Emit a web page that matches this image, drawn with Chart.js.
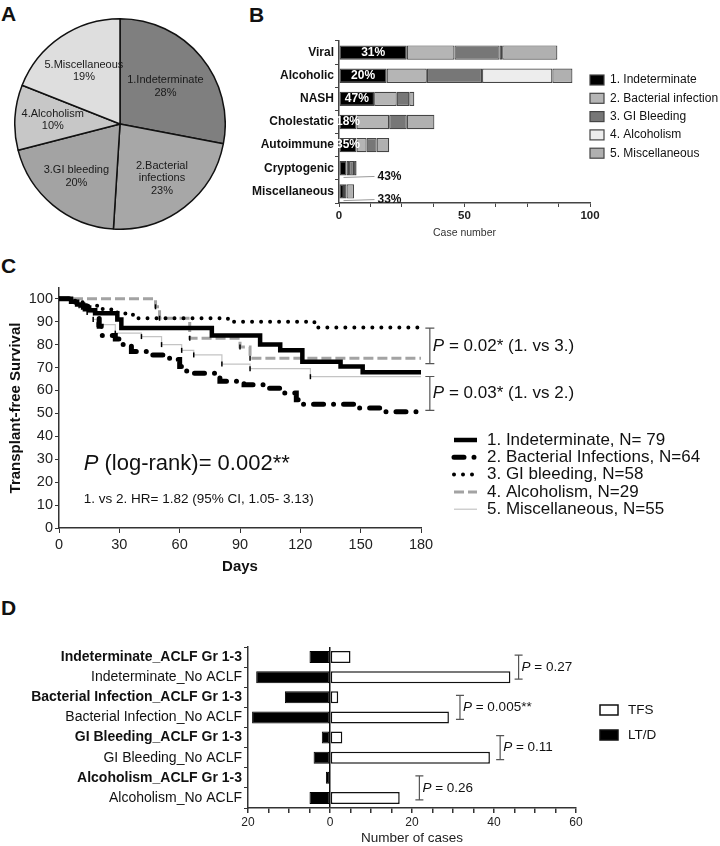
<!DOCTYPE html>
<html>
<head>
<meta charset="utf-8">
<title>ACLF triggers</title>
<script src="https://cdn.jsdelivr.net/npm/chart.js"></script>
<style>
  body { margin: 0; background: #fff; }
  #page { position: relative; width: 720px; height: 846px; overflow: hidden; font-family: "Liberation Sans", Arial, sans-serif; }
  #page canvas { position: absolute; }
  .panel { position: absolute; font-weight: bold; font-size: 21px; line-height: 21px; color: #111; }
</style>
</head>
<body>
<div id="page">
  <div class="panel" style="left:1px;top:3px">A</div>
  <div class="panel" style="left:249px;top:4px">B</div>
  <div class="panel" style="left:1px;top:255px">C</div>
  <div class="panel" style="left:1px;top:597px">D</div>
  <canvas id="pieChart" width="212" height="212" style="left:14px;top:18px"></canvas>
  <canvas id="etiologyChart" width="480" height="240" style="left:240px;top:0px"></canvas>
  <canvas id="survivalChart" width="720" height="340" style="left:0px;top:240px"></canvas>
  <canvas id="aclfChart" width="720" height="266" style="left:0px;top:580px"></canvas>
</div>

<script>
    // A: share of each ACLF trigger (%)
    const pieNames = ['1.Indeterminate', '2.Bacterial\ninfections', '3.GI bleeding', '4.Alcoholism', '5.Miscellaneous'];
    const pieValues = [28, 23, 20, 10, 19];

    // B: trigger case numbers per liver disease etiology
    const etiologies = ['Viral', 'Alcoholic', 'NASH', 'Cholestatic', 'Autoimmune', 'Cryptogenic', 'Miscellaneous'];
    const triggerNames = ['1. Indeterminate', '2. Bacterial infection', '3. GI Bleeding', '4. Alcoholism', '5. Miscellaneous'];
    const casesIndeterminate = [27, 19, 14, 7, 7, 3, 2];
    const casesBacterial = [19, 16, 9, 13, 4, 1, 1];
    const casesGIBleeding = [18, 22, 5, 7, 4, 2, 0];
    const casesAlcoholism = [1, 28, 0, 0, 0, 0, 0];
    const casesMisc = [22, 8, 2, 11, 5, 1, 3];
    const indeterminateShare = ['31%', '20%', '47%', '18%', '35%', '43%', '33%'];

    // C: Kaplan-Meier transplant-free survival (day, % surviving)
    const kmLabels = ['1. Indeterminate, N= 79', '2. Bacterial Infections, N=64', '3. GI bleeding, N=58', '4. Alcoholism, N=29', '5. Miscellaneous, N=55'];
    const kmDays1 = [0, 6, 9, 12, 15, 18, 29, 31, 76, 100, 110, 121, 140, 151, 180];
    const kmSurv1 = [100, 98.7, 97.5, 96.2, 95, 93.7, 91, 87.3, 84, 80, 77.5, 72.5, 70.5, 68, 68];
    const kmDays2 = [0, 6, 10, 13, 16, 19, 20, 21, 28, 30, 36, 45, 55, 60, 63.5, 80, 92, 103, 111.5, 118, 119, 149, 161, 180];
    const kmSurv2 = [100, 98.5, 97, 95.5, 94, 92, 88, 84, 82.5, 80, 77, 75.5, 73.5, 70.5, 67.5, 64, 62.5, 61, 58.9, 56, 54, 52.3, 50.7, 50.7];
    const kmDays3 = [0, 8, 14, 20, 26, 33, 37, 84, 127, 180];
    const kmSurv3 = [100, 98.5, 97, 95.5, 94, 93, 91.5, 90, 87.5, 87.5];
    const kmDays4 = [0, 48, 50, 65, 90, 95, 180];
    const kmSurv4 = [100, 96.5, 91.5, 82.8, 79, 74, 74];
    const kmDays5 = [0, 10, 14, 17, 19, 28, 41, 51, 61, 67, 81, 95, 125, 180];
    const kmSurv5 = [100, 97, 94, 91, 88.7, 85, 83.5, 80, 77.5, 75.5, 71.5, 69.5, 66, 66];

    // D: outcome by trigger and ACLF grade
    const aclfRows = ['Indeterminate_ACLF Gr 1-3', 'Indeterminate_No ACLF', 'Bacterial Infection_ACLF Gr 1-3', 'Bacterial Infection_No ACLF',
        'GI Bleeding_ACLF Gr 1-3', 'GI Bleeding_No ACLF', 'Alcoholism_ACLF Gr 1-3', 'Alcoholism_No ACLF'];
    const tfsCases = [5, 44, 2, 29, 3, 39, 0, 17];
    const ltdCases = [5, 18, 11, 19, 2, 4, 1, 5];
    const rowPValues = ['0.27', '0.005**', '0.11', '0.26'];

    const FONT = '"Liberation Sans", Arial, sans-serif';
    Chart.defaults.font.family = FONT;
    Chart.defaults.color = '#222';
    Chart.defaults.animation = false;
    Chart.defaults.responsive = false;
    Chart.defaults.plugins.legend.display = false;
    Chart.defaults.plugins.tooltip.enabled = false;

    // italic "P" followed by the rest of the text
    function drawP(ctx, rest, x, y, size) {
        ctx.save();
        ctx.fillStyle = '#111';
        ctx.textAlign = 'left';
        ctx.textBaseline = 'middle';
        ctx.font = 'italic ' + size + 'px ' + FONT;
        ctx.fillText('P', x, y);
        const w = ctx.measureText('P ').width;
        ctx.font = size + 'px ' + FONT;
        ctx.fillText(rest, x + w, y);
        ctx.restore();
    }

    function bracket(ctx, x, y1, y2, half) {
        ctx.save();
        ctx.strokeStyle = '#555';
        ctx.lineWidth = 1.2;
        ctx.beginPath();
        ctx.moveTo(x - half, y1); ctx.lineTo(x + half, y1);
        ctx.moveTo(x, y1); ctx.lineTo(x, y2);
        ctx.moveTo(x - half, y2); ctx.lineTo(x + half, y2);
        ctx.stroke();
        ctx.restore();
    }

    // ---------- A: pie ----------
    const pieColors = ['#7f7f7f', '#a7a7a7', '#a3a3a3', '#c7c7c7', '#dedede'];
    const pieLabelRadius = [0.56, 0.65, 0.65, 0.64, 0.61];

    new Chart(document.getElementById('pieChart'), {
        type: 'pie',
        data: {
            labels: pieNames,
            datasets: [{ data: pieValues, backgroundColor: pieColors, borderColor: '#111', borderWidth: 1.5 }]
        },
        options: { layout: { padding: 0 } },
        plugins: [{
            id: 'sliceText',
            afterDatasetsDraw(chart) {
                const ctx = chart.ctx;
                ctx.save();
                ctx.font = '11px ' + FONT;
                ctx.fillStyle = '#1a1a1a';
                ctx.textAlign = 'center';
                ctx.textBaseline = 'middle';
                chart.getDatasetMeta(0).data.forEach((arc, i) => {
                    const p = arc.getProps(['x', 'y', 'startAngle', 'endAngle', 'outerRadius'], true);
                    const mid = (p.startAngle + p.endAngle) / 2;
                    const r = p.outerRadius * pieLabelRadius[i];
                    const cx = p.x + Math.cos(mid) * r;
                    const cy = p.y + Math.sin(mid) * r;
                    const lines = pieNames[i].split('\n').concat(pieValues[i] + '%');
                    lines.forEach((t, k) => ctx.fillText(t, cx, cy + (k - (lines.length - 1) / 2) * 12.5));
                });
                ctx.restore();
            }
        }]
    });

    // ---------- B: stacked bars ----------
    const triggerColors = ['#000000', '#b5b5b5', '#777777', '#ededed', '#b0b0b0'];
    const triggerCases = [casesIndeterminate, casesBacterial, casesGIBleeding, casesAlcoholism, casesMisc];
    const shareOutside = [false, false, false, false, false, true, true];

    new Chart(document.getElementById('etiologyChart'), {
        type: 'bar',
        data: {
            labels: etiologies,
            datasets: triggerNames.map((name, i) => ({
                label: name,
                data: triggerCases[i],
                backgroundColor: triggerColors[i],
                borderColor: '#454545',
                borderWidth: 1.2,
                borderSkipped: false,
                barPercentage: 0.62,
                categoryPercentage: 1
            }))
        },
        options: {
            indexAxis: 'y',
            layout: { padding: { top: 41, right: 130, left: 0, bottom: 0 } },
            scales: {
                x: {
                    stacked: true, min: 0, max: 100,
                    afterFit: s => { s.height = 37; },
                    ticks: { stepSize: 12.5, autoSkip: false, maxRotation: 0, font: { size: 11.5, weight: 'bold' }, color: '#222', padding: 2,
                        callback: v => (v % 50 === 0 ? v : '') },
                    grid: { drawOnChartArea: false, tickLength: 4, color: '#444', lineWidth: 1 },
                    border: { color: '#444', width: 1.5 },
                    title: { display: true, text: 'Case number', font: { size: 10.5 }, color: '#333', padding: { top: 0, bottom: 1 } }
                },
                y: {
                    stacked: true,
                    afterFit: s => { s.width = 99; },
                    ticks: { font: { size: 12, weight: 'bold' }, color: '#111', padding: 1 },
                    grid: { drawOnChartArea: false, tickLength: 4, color: '#444' },
                    border: { color: '#444', width: 1.5 }
                }
            }
        },
        plugins: [{
            id: 'shareAndLegend',
            afterDatasetsDraw(chart) {
                const ctx = chart.ctx;
                ctx.save();
                ctx.font = 'bold 12px ' + FONT;
                ctx.textBaseline = 'middle';
                chart.getDatasetMeta(0).data.forEach((bar, i) => {
                    const p = bar.getProps(['x', 'y', 'base', 'height'], true);
                    if (shareOutside[i]) {
                        const ly = p.y + p.height / 2 + 2;
                        ctx.strokeStyle = '#999';
                        ctx.lineWidth = 1;
                        ctx.beginPath();
                        ctx.moveTo(p.base + 4, ly);
                        ctx.lineTo(p.base + 35, ly - 1);
                        ctx.stroke();
                        ctx.fillStyle = '#111';
                        ctx.textAlign = 'left';
                        ctx.fillText(indeterminateShare[i], p.base + 38, ly - 1);
                    } else {
                        ctx.fillStyle = '#fff';
                        ctx.textAlign = 'center';
                        ctx.fillText(indeterminateShare[i], (p.x + p.base) / 2, p.y);
                    }
                });
                ctx.font = '12px ' + FONT;
                triggerNames.forEach((name, i) => {
                    const y = 80 + i * 18.3;
                    ctx.fillStyle = triggerColors[i];
                    ctx.fillRect(350, y - 5, 14, 10);
                    ctx.strokeStyle = '#454545';
                    ctx.lineWidth = 1.2;
                    ctx.strokeRect(350, y - 5, 14, 10);
                    ctx.fillStyle = '#111';
                    ctx.textAlign = 'left';
                    ctx.fillText(name, 370, y);
                });
                ctx.restore();
            }
        }]
    });

    // ---------- C: Kaplan-Meier ----------
    const kmDays = [kmDays1, kmDays2, kmDays3, kmDays4, kmDays5];
    const kmSurv = [kmSurv1, kmSurv2, kmSurv3, kmSurv4, kmSurv5];
    const censorTick = (n) => (c => (c.dataIndex === 0 || c.dataIndex === n - 1 ? 0 : 2.5));
    const kmStyles = [
        { borderColor: '#000', borderWidth: 4.5 },
        { borderColor: '#000', borderWidth: 5, borderDash: [10, 10, 0, 10], borderCapStyle: 'round' },
        { borderColor: '#000', borderWidth: 4, borderDash: [0, 9], borderCapStyle: 'round' },
        { borderColor: '#a3a3a3', borderWidth: 3, borderDash: [10, 4],
          pointStyle: 'line', pointRotation: 90, pointRadius: censorTick(kmDays4.length), pointBorderColor: '#000', pointBorderWidth: 1.5 },
        { borderColor: '#c4c4c4', borderWidth: 1.2,
          pointStyle: 'line', pointRotation: 90, pointRadius: censorTick(kmDays5.length), pointBorderColor: '#000', pointBorderWidth: 1.5 }
    ];
    const kmBracketDay = 184.4;
    const kmBrackets = [
        { top: 87.2, bottom: 71.7, text: '= 0.02* (1. vs 3.)' },
        { top: 66.1, bottom: 51.3, text: '= 0.03* (1. vs 2.)' }
    ];

    new Chart(document.getElementById('survivalChart'), {
        type: 'line',
        data: {
            datasets: kmLabels.map((label, i) => Object.assign({
                label: label,
                data: kmDays[i].map((d, k) => ({ x: d, y: kmSurv[i][k] })),
                stepped: true,
                fill: false,
                pointRadius: 0
            }, kmStyles[i]))
        },
        options: {
            layout: { padding: { top: 48, right: 299, left: 0, bottom: 0 } },
            scales: {
                x: {
                    type: 'linear', min: 0, max: 180,
                    afterFit: s => { s.height = 52; },
                    ticks: { stepSize: 30, font: { size: 14.5 }, color: '#222', padding: 3, maxRotation: 0 },
                    grid: { drawOnChartArea: false, tickLength: 5, color: '#333' },
                    border: { color: '#333', width: 1.5 },
                    title: { display: true, text: 'Days', font: { size: 15, weight: 'bold' }, color: '#111', padding: { top: 0, bottom: 4 } }
                },
                y: {
                    min: 0, max: 104.7,
                    afterFit: s => { s.width = 59; },
                    ticks: { stepSize: 10, includeBounds: false, font: { size: 14.5 }, color: '#222', padding: 2 },
                    grid: { drawOnChartArea: false, tickLength: 4, color: '#333' },
                    border: { color: '#333', width: 1.5 },
                    title: { display: true, text: 'Transplant-free Survival', font: { size: 15, weight: 'bold' }, color: '#111', padding: { top: 7, bottom: 0 } }
                }
            }
        },
        plugins: [{
            id: 'kmNotes',
            afterDraw(chart) {
                const ctx = chart.ctx;
                const xs = chart.scales.x, ys = chart.scales.y;
                const bx = xs.getPixelForValue(kmBracketDay);
                kmBrackets.forEach(b => {
                    const y1 = ys.getPixelForValue(b.top), y2 = ys.getPixelForValue(b.bottom);
                    bracket(ctx, bx, y1, y2, 4.5);
                    drawP(ctx, b.text, bx + 3, (y1 + y2) / 2, 17);
                });
                drawP(ctx, '(log-rank)= 0.002**', xs.getPixelForValue(12.3), ys.getPixelForValue(28), 22);
                ctx.save();
                ctx.fillStyle = '#111';
                ctx.textBaseline = 'middle';
                ctx.font = '13.5px ' + FONT;
                ctx.fillText('1. vs 2. HR= 1.82 (95% CI, 1.05- 3.13)', xs.getPixelForValue(12.3), ys.getPixelForValue(12.4));
                // legend
                ctx.font = '17px ' + FONT;
                chart.data.datasets.forEach((ds, i) => {
                    const y = 200 + i * 17.3;
                    ctx.save();
                    ctx.strokeStyle = ds.borderColor;
                    ctx.lineWidth = ds.borderWidth;
                    ctx.lineCap = ds.borderCapStyle || 'butt';
                    ctx.setLineDash(ds.borderDash || []);
                    ctx.beginPath();
                    ctx.moveTo(454, y);
                    ctx.lineTo(477, y);
                    ctx.stroke();
                    ctx.restore();
                    ctx.fillText(ds.label, 487, y);
                });
                ctx.restore();
            }
        }]
    });

    // ---------- D: diverging bars ----------
    const pBracketAt = [46, 31.7, 41.5, 21.8];

    new Chart(document.getElementById('aclfChart'), {
        type: 'bar',
        data: {
            labels: aclfRows,
            datasets: [
                { label: 'TFS', data: tfsCases, backgroundColor: '#ffffff', borderColor: '#111', borderWidth: 1.5,
                  borderSkipped: false, barPercentage: 0.6, categoryPercentage: 1 },
                { label: 'LT/D', data: ltdCases.map(v => -v), backgroundColor: '#000000', borderColor: '#000', borderWidth: 1,
                  borderSkipped: false, barPercentage: 0.6, categoryPercentage: 1 }
            ]
        },
        options: {
            indexAxis: 'y',
            layout: { padding: { top: 67, right: 144, left: 0, bottom: 0 } },
            scales: {
                x: {
                    stacked: true, min: -20, max: 60,
                    afterFit: s => { s.height = 38; },
                    ticks: { stepSize: 5, autoSkip: false, maxRotation: 0, font: { size: 12 }, color: '#222', padding: 2,
                        callback: v => (v % 20 === 0 ? Math.abs(v) : '') },
                    grid: { drawOnChartArea: true, color: c => (c.tick && c.tick.value === 0 ? '#111' : 'rgba(0,0,0,0)'),
                        tickColor: '#333', tickLength: 5, lineWidth: 1.5 },
                    border: { color: '#333', width: 1.5 },
                    title: { display: true, text: 'Number of cases', font: { size: 13.5, lineHeight: 1 }, color: '#222', padding: { top: 0, bottom: 1 } }
                },
                y: {
                    stacked: true,
                    afterFit: s => { s.width = 248; },
                    ticks: { font: c => ({ size: 14, weight: c.index % 2 === 0 ? 'bold' : 'normal' }), color: '#111', padding: 2 },
                    grid: { drawOnChartArea: false, tickLength: 4, color: '#333' },
                    border: { color: '#333', width: 1.5 }
                }
            }
        },
        plugins: [{
            id: 'pAndLegend',
            afterDraw(chart) {
                const ctx = chart.ctx;
                const xs = chart.scales.x, ys = chart.scales.y;
                rowPValues.forEach((p, k) => {
                    const x = xs.getPixelForValue(pBracketAt[k]);
                    const y1 = ys.getPixelForValue(2 * k) - 2;
                    const y2 = ys.getPixelForValue(2 * k + 1) + 2;
                    bracket(ctx, x, y1, y2, 4);
                    drawP(ctx, '= ' + p, x + 3, (y1 + y2) / 2, 13.5);
                });
                ctx.save();
                ctx.font = '13.5px ' + FONT;
                ctx.textBaseline = 'middle';
                chart.data.datasets.forEach((ds, i) => {
                    const y = 130 + i * 25;
                    ctx.fillStyle = ds.backgroundColor;
                    ctx.fillRect(600, y - 5, 18, 10);
                    ctx.strokeStyle = '#111';
                    ctx.lineWidth = 1.5;
                    ctx.strokeRect(600, y - 5, 18, 10);
                    ctx.fillStyle = '#111';
                    ctx.fillText(ds.label, 628, y);
                });
                ctx.restore();
            }
        }]
    });
</script>
</body>
</html>
